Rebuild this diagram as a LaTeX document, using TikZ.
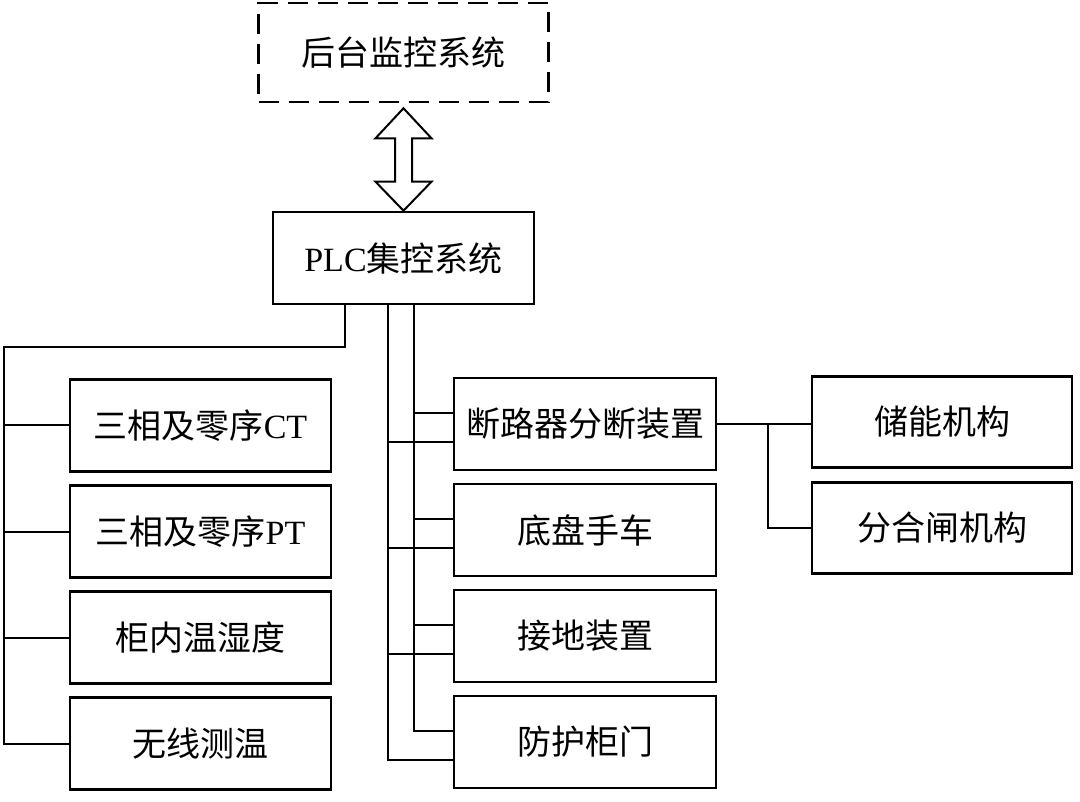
\documentclass[tikz,border=0pt]{standalone}
\usepackage{fontspec}
\setmainfont{Liberation Serif}
\newfontfamily\cjk{Noto Sans CJK SC}
\usetikzlibrary{calc}

\begin{document}
\begin{tikzpicture}[x=1pt,y=-1pt,
    box/.style={draw,line width=2.6pt,minimum width=261pt,minimum height=92pt,
      inner sep=0pt,font=\fontsize{34}{40}\selectfont},
    link/.style={line width=2pt}]
  \useasboundingbox (0,0) rectangle (1080,802);
  % top two systems
  \node[box,dash pattern=on 20pt off 10pt,minimum width=290pt,minimum height=99pt] (mon) at (403.5,52.5) {\cjk 后台监控系统};
  \node[box] (plc) at (403.5,258) {PLC{\cjk 集控系统}};
  % left column
  \node[box] (l1) at (200.5,425.5) {{\cjk 三相及零序}CT};
  \node[box] (l2) at (200.5,531.5) {{\cjk 三相及零序}PT};
  \node[box] (l3) at (200.5,637.5) {\cjk 柜内温湿度};
  \node[box] (l4) at (200.5,743.5) {\cjk 无线测温};
  % middle column
  \node[box,minimum width=262pt] (m1) at (585,424) {\cjk 断路器分断装置};
  \node[box,minimum width=262pt] (m2) at (585,530) {\cjk 底盘手车};
  \node[box,minimum width=262pt] (m3) at (585,636) {\cjk 接地装置};
  \node[box,minimum width=262pt] (m4) at (585,742) {\cjk 防护柜门};
  % right column
  \node[box,minimum width=260pt,minimum height=91pt] (r1) at (942,422) {\cjk 储能机构};
  \node[box,minimum width=260pt,minimum height=91pt] (r2) at (942,528) {\cjk 分合闸机构};

  % double arrow
  \coordinate (arT) at ($(mon.south)+(0,5)$);
  \coordinate (arB) at (plc.north);
  \draw[line width=2pt,line join=miter] (arT) -- ++(28,30) -- ++(-19.5,0)
    -- ($(arB)+(8.5,-29)$) -- ++(19.5,0) -- (arB) -- ++(-28,-29) -- ++(19.5,0)
    -- ($(arT)+(-8.5,30)$) -- ++(-19.5,0) -- cycle;

  % left bus
  \coordinate (pL) at ($(plc.south west)+(73,0)$);
  \coordinate (lbus) at (4,347);
  \draw[link] (pL) |- (lbus) |- (l4.west);
  \foreach \i in {1,2,3} \draw[link] (l\i.west) -- (l\i.west -| lbus);

  % middle buses
  \coordinate (pA) at ($(plc.south west)+(116,0)$);
  \coordinate (pB) at ($(plc.south west)+(142,0)$);
  \foreach \i in {1,...,4} {
    \coordinate (ma\i) at ($(m\i.west)+(0,18)$);
    \coordinate (mb\i) at ($(m\i.west)+(0,-11)$);
  }
  \draw[link] (pA) |- (ma4);
  \draw[link] (pB) |- (mb4);
  \foreach \i in {1,2,3} \draw[link] (ma\i -| pA) -- (ma\i) (mb\i -| pB) -- (mb\i);

  % right branch
  \draw[link] (m1.east) -- (m1.east -| r1.west);
  \coordinate (rj) at ($(m1.east)+(51,0)$);
  \draw[link] (rj) |- (r2.west);
\end{tikzpicture}
\end{document}
